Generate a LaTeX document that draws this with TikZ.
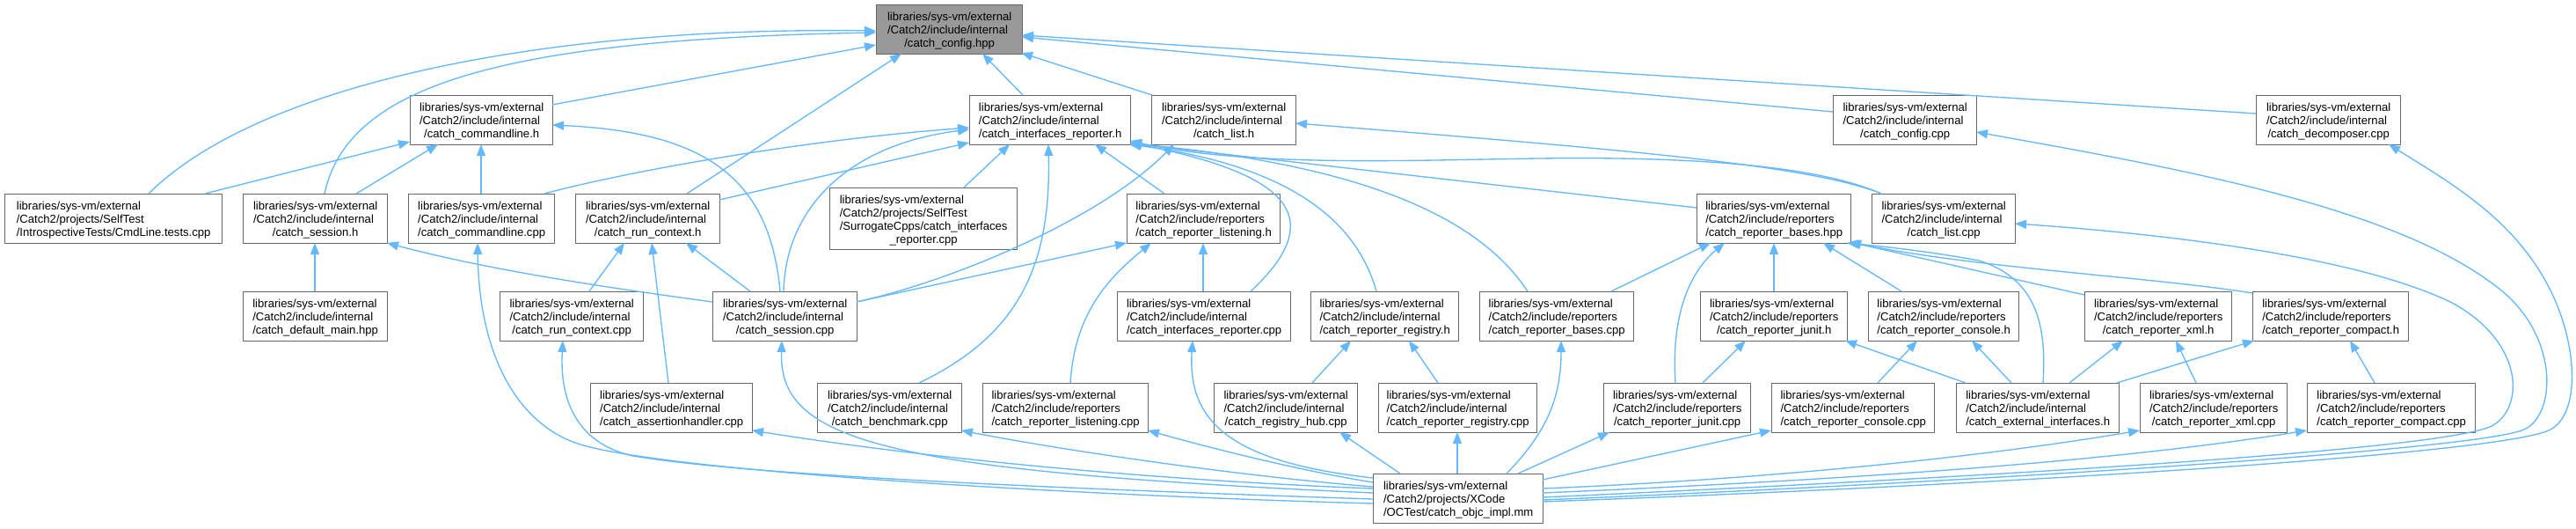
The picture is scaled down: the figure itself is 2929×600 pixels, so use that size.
\documentclass[tikz,border=0pt]{standalone}
\usepackage{fontspec}
\setmainfont{Liberation Sans}
\usetikzlibrary{arrows.meta}
\definecolor{edgecol}{HTML}{63B8FF}
\definecolor{boxborder}{HTML}{666666}
\definecolor{rootfill}{HTML}{999999}
\newcommand\nw[3]{([shift={(#2,#3)}]#1.north west)}
\newcommand\lbl[3]{\begin{tabular}{@{}l@{}}\rule{0pt}{15.1pt}#1\\#2\\\multicolumn{1}{@{}c@{}}{#3}\end{tabular}}
\tikzset{
  box/.style={draw=boxborder, line width=1.33pt, fill=white, anchor=north west, inner sep=0pt,
    minimum height=56pt, font=\fontsize{13.1}{15}\selectfont, text=black},
  rootbox/.style={box, fill=rootfill},
  edge/.style={draw=edgecol, line width=1.33pt, -{Triangle[length=13pt,width=10pt]}}
}
\begin{document}
\begin{tikzpicture}[x=1pt, y=-1pt, line join=round]
\fill[white] (0,0) rectangle (2929,600);
\useasboundingbox (0,0) rectangle (2929,600);
% row 1
\node[rootbox, minimum width=166pt] (cfg) at (996,5) {\lbl{libraries/sys-vm/external}{/Catch2/include/internal}{/catch\_config.hpp}};
% row 2
\node[box, minimum width=162pt] (cmdh) at (466,108) {\lbl{libraries/sys-vm/external}{/Catch2/include/internal}{/catch\_commandline.h}};
\node[box, minimum width=183pt] (irh) at (1102,108) {\lbl{libraries/sys-vm/external}{/Catch2/include/internal}{/catch\_interfaces\_reporter.h}};
\node[box, minimum width=164pt] (listh) at (1309,108) {\lbl{libraries/sys-vm/external}{/Catch2/include/internal}{/catch\_list.h}};
\node[box, minimum width=163pt] (cfgcpp) at (2084,108) {\lbl{libraries/sys-vm/external}{/Catch2/include/internal}{/catch\_config.cpp}};
\node[box, minimum width=164pt] (dec) at (2565,108) {\lbl{libraries/sys-vm/external}{/Catch2/include/internal}{/catch\_decomposer.cpp}};
% row 3
\node[box, minimum width=247pt] (cmdtest) at (5,220) {\lbl{libraries/sys-vm/external}{/Catch2/projects/SelfTest}{/IntrospectiveTests/CmdLine.tests.cpp}};
\node[box, minimum width=164pt] (sessh) at (276,220) {\lbl{libraries/sys-vm/external}{/Catch2/include/internal}{/catch\_session.h}};
\node[box, minimum width=166pt] (cmdcpp) at (464,220) {\lbl{libraries/sys-vm/external}{/Catch2/include/internal}{/catch\_commandline.cpp}};
\node[box, minimum width=164pt] (rch) at (654,220) {\lbl{libraries/sys-vm/external}{/Catch2/include/internal}{/catch\_run\_context.h}};
\node[box, minimum width=213pt, minimum height=70pt] (surr) at (943,213) {\begin{tabular}{@{}l@{}}\rule{0pt}{15.1pt}libraries/sys-vm/external\\/Catch2/projects/SelfTest\\/SurrogateCpps/catch\_interfaces\\\multicolumn{1}{@{}c@{}}{\_reporter.cpp}\end{tabular}};
\node[box, minimum width=174pt] (lish) at (1281,220) {\lbl{libraries/sys-vm/external}{/Catch2/include/reporters}{/catch\_reporter\_listening.h}};
\node[box, minimum width=175pt] (rbh) at (1929,220) {\lbl{libraries/sys-vm/external}{/Catch2/include/reporters}{/catch\_reporter\_bases.hpp}};
\node[box, minimum width=163pt] (listcpp) at (2128,220) {\lbl{libraries/sys-vm/external}{/Catch2/include/internal}{/catch\_list.cpp}};
% row 4
\node[box, minimum width=164pt] (defmain) at (276,331) {\lbl{libraries/sys-vm/external}{/Catch2/include/internal}{/catch\_default\_main.hpp}};
\node[box, minimum width=163pt] (rccpp) at (568,331) {\lbl{libraries/sys-vm/external}{/Catch2/include/internal}{/catch\_run\_context.cpp}};
\node[box, minimum width=164pt] (sesscpp) at (810,331) {\lbl{libraries/sys-vm/external}{/Catch2/include/internal}{/catch\_session.cpp}};
\node[box, minimum width=197pt] (ircpp) at (1270,331) {\lbl{libraries/sys-vm/external}{/Catch2/include/internal}{/catch\_interfaces\_reporter.cpp}};
\node[box, minimum width=168pt] (rrh) at (1490,331) {\lbl{libraries/sys-vm/external}{/Catch2/include/internal}{/catch\_reporter\_registry.h}};
\node[box, minimum width=175pt] (rbcpp) at (1682,331) {\lbl{libraries/sys-vm/external}{/Catch2/include/reporters}{/catch\_reporter\_bases.cpp}};
\node[box, minimum width=167pt] (junith) at (1933,331) {\lbl{libraries/sys-vm/external}{/Catch2/include/reporters}{/catch\_reporter\_junit.h}};
\node[box, minimum width=171pt] (consh) at (2124,331) {\lbl{libraries/sys-vm/external}{/Catch2/include/reporters}{/catch\_reporter\_console.h}};
\node[box, minimum width=167pt] (xmlh) at (2370,331) {\lbl{libraries/sys-vm/external}{/Catch2/include/reporters}{/catch\_reporter\_xml.h}};
\node[box, minimum width=177pt] (comph) at (2561,331) {\lbl{libraries/sys-vm/external}{/Catch2/include/reporters}{/catch\_reporter\_compact.h}};
% row 5
\node[box, minimum width=184pt] (assert) at (671,435) {\lbl{libraries/sys-vm/external}{/Catch2/include/internal}{/catch\_assertionhandler.cpp}};
\node[box, minimum width=164pt] (bench) at (929,435) {\lbl{libraries/sys-vm/external}{/Catch2/include/internal}{/catch\_benchmark.cpp}};
\node[box, minimum width=188pt] (liscpp) at (1117,435) {\lbl{libraries/sys-vm/external}{/Catch2/include/reporters}{/catch\_reporter\_listening.cpp}};
\node[box, minimum width=163pt] (hub) at (1380,435) {\lbl{libraries/sys-vm/external}{/Catch2/include/internal}{/catch\_registry\_hub.cpp}};
\node[box, minimum width=180pt] (rrcpp) at (1567,435) {\lbl{libraries/sys-vm/external}{/Catch2/include/internal}{/catch\_reporter\_registry.cpp}};
\node[box, minimum width=167pt] (junitcpp) at (1823,435) {\lbl{libraries/sys-vm/external}{/Catch2/include/reporters}{/catch\_reporter\_junit.cpp}};
\node[box, minimum width=185pt] (conscpp) at (2014,435) {\lbl{libraries/sys-vm/external}{/Catch2/include/reporters}{/catch\_reporter\_console.cpp}};
\node[box, minimum width=185pt] (ext) at (2224,435) {\lbl{libraries/sys-vm/external}{/Catch2/include/internal}{/catch\_external\_interfaces.h}};
\node[box, minimum width=167pt] (xmlcpp) at (2433,435) {\lbl{libraries/sys-vm/external}{/Catch2/include/reporters}{/catch\_reporter\_xml.cpp}};
\node[box, minimum width=191pt] (compcpp) at (2623,435) {\lbl{libraries/sys-vm/external}{/Catch2/include/reporters}{/catch\_reporter\_compact.cpp}};
% row 6
\node[box, minimum width=193pt] (objc) at (1561,538) {\lbl{libraries/sys-vm/external}{/Catch2/projects/XCode}{/OCTest/catch\_objc\_impl.mm}};

% edges into catch_config.hpp
\draw[edge] \nw{cmdtest}{164}{0} .. controls (290,100) and (600,30) .. \nw{cfg}{0}{30};
\draw[edge] \nw{sessh}{93}{0} .. controls (395,100) and (560,45) .. \nw{cfg}{0}{32};
\draw[edge] \nw{cmdh}{162}{11} -- \nw{cfg}{0}{46};
\draw[edge] \nw{rch}{127}{0} -- \nw{cfg}{29}{56};
\draw[edge] \nw{irh}{61}{0} -- \nw{cfg}{121}{56};
\draw[edge] \nw{listh}{1}{0} -- \nw{cfg}{165}{55};
\draw[edge] \nw{cfgcpp}{0}{19} -- \nw{cfg}{166}{37};
\draw[edge] \nw{dec}{0}{21} -- \nw{cfg}{166}{35};
% into commandline.h
\draw[edge] \nw{cmdtest}{228}{0} -- \nw{cmdh}{0}{53};
\draw[edge] \nw{sessh}{129}{0} -- \nw{cmdh}{32}{56};
\draw[edge] \nw{cmdcpp}{83}{0} -- \nw{cmdh}{81}{56};
\draw[edge] \nw{sesscpp}{77}{0} .. controls (875,200) and (800,150) .. \nw{cmdh}{162}{34};
% into interfaces_reporter.h
\draw[edge] \nw{cmdcpp}{155}{0} .. controls (700,198) and (900,160) .. \nw{irh}{0}{37};
\draw[edge] \nw{rch}{164}{7} -- \nw{irh}{0}{54};
\draw[edge] \nw{sesscpp}{81}{0} .. controls (893,240) and (960,165) .. \nw{irh}{0}{39};
\draw[edge] \nw{surr}{153}{0} -- \nw{irh}{46}{56};
\draw[edge] \nw{bench}{116}{0} .. controls (1160,380) and (1195,300) .. \nw{irh}{90}{56};
\draw[edge] \nw{lish}{43}{0} -- \nw{irh}{143}{56};
\draw[edge] \nw{ircpp}{152}{0} .. controls (1520,240) and (1450,195) .. \nw{irh}{183}{54};
\draw[edge] \nw{rrh}{75}{0} .. controls (1545,260) and (1480,190) .. \nw{irh}{182}{56};
\draw[edge] \nw{rbcpp}{55}{0} .. controls (1690,260) and (1580,190) .. \nw{irh}{183}{55};
\draw[edge] \nw{rbh}{0}{16} -- \nw{irh}{183}{55};
\draw[edge] \nw{listcpp}{11}{0} .. controls (2060,185) and (1900,178) .. (1750,180) .. controls (1600,182) and (1420,190) .. \nw{irh}{183}{52};
% into list.h
\draw[edge] \nw{listcpp}{11}{0} .. controls (2060,188) and (1850,170) .. \nw{listh}{164}{32};
\draw[edge] \nw{sesscpp}{164}{12} .. controls (1080,320) and (1250,250) .. \nw{listh}{26}{56};
% into reporter_listening.h
\draw[edge] \nw{sesscpp}{164}{12} -- \nw{lish}{0}{56};
\draw[edge] \nw{liscpp}{100}{0} .. controls (1222,360) and (1255,320) .. \nw{lish}{28}{56};
\draw[edge] \nw{ircpp}{98}{0} -- \nw{lish}{87}{56};
% into session.h
\draw[edge] \nw{defmain}{82}{0} -- \nw{sessh}{82}{56};
\draw[edge] \nw{sesscpp}{0}{12} .. controls (700,328) and (560,308) .. \nw{sessh}{164}{56};
% into run_context.h
\draw[edge] \nw{rccpp}{102}{0} -- \nw{rch}{56}{56};
\draw[edge] \nw{assert}{89}{0} -- \nw{rch}{87}{56};
\draw[edge] \nw{sesscpp}{43}{0} -- \nw{rch}{126}{56};
% into reporter_registry.h
\draw[edge] \nw{hub}{112}{0} -- \nw{rrh}{46}{56};
\draw[edge] \nw{rrcpp}{68}{0} -- \nw{rrh}{112}{56};
% into reporter_bases.hpp
\draw[edge] \nw{rbcpp}{150}{0} -- \nw{rbh}{16}{56};
\draw[edge] \nw{junitcpp}{82}{0} .. controls (1900,360) and (1920,310) .. \nw{rbh}{32}{56};
\draw[edge] \nw{junith}{84}{0} -- \nw{rbh}{88}{56};
\draw[edge] \nw{consh}{38}{0} -- \nw{rbh}{144}{56};
\draw[edge] \nw{ext}{99}{0} .. controls (2328,360) and (2310,315) .. (2250,296) .. controls (2190,285) and (2140,280) .. \nw{rbh}{171}{56};
\draw[edge] \nw{xmlh}{0}{4} -- \nw{rbh}{174}{55};
\draw[edge] \nw{comph}{0}{2} .. controls (2450,315) and (2250,305) .. \nw{rbh}{174}{55};
% reporter headers
\draw[edge] \nw{junitcpp}{113}{0} -- \nw{junith}{52}{56};
\draw[edge] \nw{conscpp}{121}{0} -- \nw{consh}{56}{56};
\draw[edge] \nw{ext}{11}{0} -- \nw{junith}{165}{56};
\draw[edge] \nw{ext}{63}{0} -- \nw{consh}{118}{56};
\draw[edge] \nw{ext}{129}{0} -- \nw{xmlh}{44}{56};
\draw[edge] \nw{ext}{183}{0} -- \nw{comph}{2}{56};
\draw[edge] \nw{xmlcpp}{64}{0} -- \nw{xmlh}{104}{56};
\draw[edge] \nw{compcpp}{77}{0} -- \nw{comph}{111}{56};
% from objc_impl.mm
\draw[edge] \nw{objc}{0}{34} .. controls (1200,562) and (760,535) .. (660,505) .. controls (600,487) and (545,420) .. \nw{cmdcpp}{79}{56};
\draw[edge] \nw{objc}{0}{29} .. controls (1200,555) and (850,540) .. (720,518) .. controls (660,505) and (636,460) .. \nw{rccpp}{72}{56};
\draw[edge] \nw{objc}{0}{22} .. controls (1000,535) and (885,500) .. \nw{sesscpp}{79}{56};
\draw[edge] \nw{objc}{0}{17} .. controls (1300,545) and (1050,520) .. \nw{assert}{184}{54};
\draw[edge] \nw{objc}{0}{15} .. controls (1400,540) and (1200,510) .. \nw{bench}{164}{54};
\draw[edge] \nw{objc}{0}{10} .. controls (1480,535) and (1380,510) .. \nw{liscpp}{188}{54};
\draw[edge] \nw{objc}{0}{5} .. controls (1400,525) and (1350,480) .. \nw{ircpp}{86}{56};
\draw[edge] \nw{objc}{31}{0} -- \nw{hub}{143}{56};
\draw[edge] \nw{objc}{96}{0} -- \nw{rrcpp}{90}{56};
\draw[edge] \nw{objc}{152}{0} .. controls (1760,490) and (1775,450) .. \nw{rbcpp}{93}{56};
\draw[edge] \nw{objc}{165}{0} -- \nw{junitcpp}{7}{56};
\draw[edge] \nw{objc}{193}{7} -- \nw{conscpp}{0}{54};
\draw[edge] \nw{objc}{193}{17} .. controls (2000,545) and (2250,520) .. \nw{xmlcpp}{0}{54};
\draw[edge] \nw{objc}{193}{22} .. controls (2100,545) and (2400,525) .. \nw{compcpp}{0}{54};
\draw[edge] \nw{objc}{193}{27} .. controls (2300,540) and (2790,510) .. (2835,483) .. controls (2870,462) and (2870,390) .. (2790,345) .. controls (2680,290) and (2450,265) .. \nw{listcpp}{163}{34};
\draw[edge] \nw{objc}{193}{30} .. controls (2300,545) and (2820,510) .. (2870,488) .. controls (2905,472) and (2910,390) .. (2850,335) .. controls (2740,240) and (2500,195) .. \nw{cfgcpp}{163}{42};
\draw[edge] \nw{objc}{193}{32} .. controls (2300,550) and (2850,515) .. (2900,488) .. controls (2935,469) and (2930,390) .. (2900,330) .. controls (2860,250) and (2790,210) .. \nw{dec}{151}{56};
\end{tikzpicture}
\end{document}
